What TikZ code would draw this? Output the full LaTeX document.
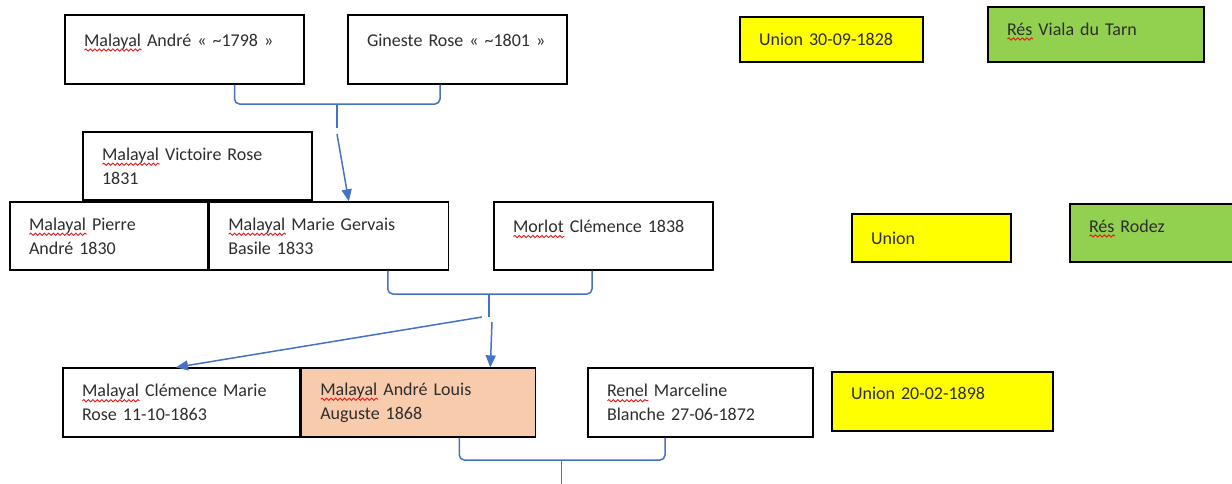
\documentclass[tikz,border=0pt]{standalone}
\usepackage{fontspec}
\setmainfont{Carlito}
\usepackage{xcolor}
\usepackage{tikz}
\usetikzlibrary{arrows.meta, positioning, decorations.pathmorphing}
\definecolor{linkblue}{RGB}{68, 114, 196}
\definecolor{unionyellow}{RGB}{255, 255, 0}
\definecolor{placegreen}{RGB}{146, 208, 80}
\definecolor{heirpeach}{RGB}{248, 203, 173}
\definecolor{namegray}{RGB}{45, 45, 45}
\definecolor{spellred}{RGB}{230, 20, 20}
\newsavebox\wordbox
\newlength\wavelen
\newcommand\spellerr[1]{\sbox\wordbox{#1}\setlength\wavelen{\wd\wordbox}%
  \rlap{\tikz[baseline=0pt]\draw[spellred, line width=0.9pt, decorate, decoration={snake, amplitude=1.1pt, segment length=4.5pt}] (0pt,-4pt) -- (\wavelen,-4pt);}\usebox\wordbox}
\newcommand\namefont{\fontsize{18}{24}\selectfont}

\begin{document}
\begin{tikzpicture}[x=1pt, y=-1pt,
    person/.style={draw=black, line width=1.3pt, rectangle, inner xsep=19pt, inner ysep=0pt, align=left, font=\namefont, text=namegray},
    union/.style={person, fill=unionyellow},
    place/.style={person, fill=placegreen},
    lift/.style={text height=13pt, text depth=#1},
    link/.style={draw=linkblue, line width=1.5pt, rounded corners=5pt},
    arr/.style={draw=linkblue, line width=1.5pt, -{Triangle[length=12pt, width=10pt]}}]
    \useasboundingbox (0,0) rectangle (1232,483);

    % Generation 1: the parents
    \node[person, minimum width=239pt, minimum height=69pt, text width=201pt, lift=20pt] (andre) at (184.5,49.5) {\spellerr{Malayal} André « \textasciitilde1798 »};
    \node[person, minimum width=219pt, minimum height=69pt, text width=181pt, lift=20pt] (gineste) at (457.5,49.5) {Gineste Rose « \textasciitilde1801 »};
    \node[union, minimum width=183pt, minimum height=45pt, text width=145pt, lift=1pt] (union-a) at (831.5,39.5) {Union 30-09-1828};
    \node[place, minimum width=216pt, minimum height=55pt, text width=178pt, lift=12pt] (viala) at (1096,34.5) {\spellerr{Rés} Viala du Tarn};

    % Generation 2: the children
    \node[person, minimum width=229pt, minimum height=68pt, text width=191pt] (victoire) at (197.5,166) {\spellerr{Malayal} Victoire Rose\\1831};
    \node[person, minimum width=198pt, minimum height=68pt, text width=160pt] (pierre) at (109,236) {\spellerr{Malayal} Pierre\\André 1830};
    \node[person, minimum width=239pt, minimum height=68pt, text width=201pt, right=0pt of pierre] (marie) {\spellerr{Malayal} Marie Gervais\\Basile 1833};
    \node[person, minimum width=219pt, minimum height=68pt, text width=181pt, lift=20pt] (morlot) at (603.5,236) {\spellerr{Morlot} Clémence 1838};
    \node[union, minimum width=159pt, minimum height=48pt, text width=121pt, lift=1pt] (union-b) at (931.5,238) {Union};
    \node[place, minimum width=170pt, minimum height=58pt, text width=132pt, lift=15pt] (rodez) at (1155,233) {\spellerr{Rés} Rodez};

    % Generation 3: the grandchildren
    \node[person, minimum width=237pt, minimum height=69pt, text width=199pt] (clemence) at (181.5,402.5) {\spellerr{Malayal} Clémence Marie\\Rose 11-10-1863};
    \node[person, fill=heirpeach, minimum width=234pt, minimum height=69pt, text width=196pt, right=0pt of clemence] (louis) {\spellerr{Malayal} André Louis\\Auguste 1868};
    \node[person, minimum width=225pt, minimum height=69pt, text width=187pt] (renel) at (700.5,402.5) {\spellerr{Renel} Marceline\\Blanche 27-06-1872};
    \node[union, minimum width=221pt, minimum height=59pt, text width=183pt, lift=18pt] (union-c) at (942.5,401.5) {Union 20-02-1898};

    % Brackets and arrows
    \coordinate (parents-mid) at (337,104);
    \draw[link] ([xshift=50pt]andre.south) |- (parents-mid) -| ([xshift=-17.5pt]gineste.south);
    \draw[link] (parents-mid) -- ++(0,24) coordinate (parents-stem);
    \coordinate (parents-out) at (337,134);
    \draw[arr] (parents-out) -- ([xshift=20pt]marie.north);

    \coordinate (sons-mid) at (489,294);
    \draw[link] ([xshift=59pt]marie.south) |- (sons-mid) -| ([xshift=-11.5pt]morlot.south);
    \draw[link] (sons-mid) -- ++(0,23) coordinate (sons-stem);
    \coordinate (sons-out-a) at (482,317);
    \coordinate (sons-out-b) at (492,322);
    \draw[arr] (sons-out-a) -- ([xshift=-5.5pt]clemence.north);
    \draw[arr] (sons-out-b) -- ([xshift=72pt]louis.north);

    \coordinate (heirs-mid) at (561.5,460);
    \draw[link] ([xshift=41pt]louis.south) |- (heirs-mid) -| ([xshift=-35.5pt]renel.south);
    \draw[link] (heirs-mid) -- ++(0,30) coordinate (heirs-stem);
\end{tikzpicture}
\end{document}
